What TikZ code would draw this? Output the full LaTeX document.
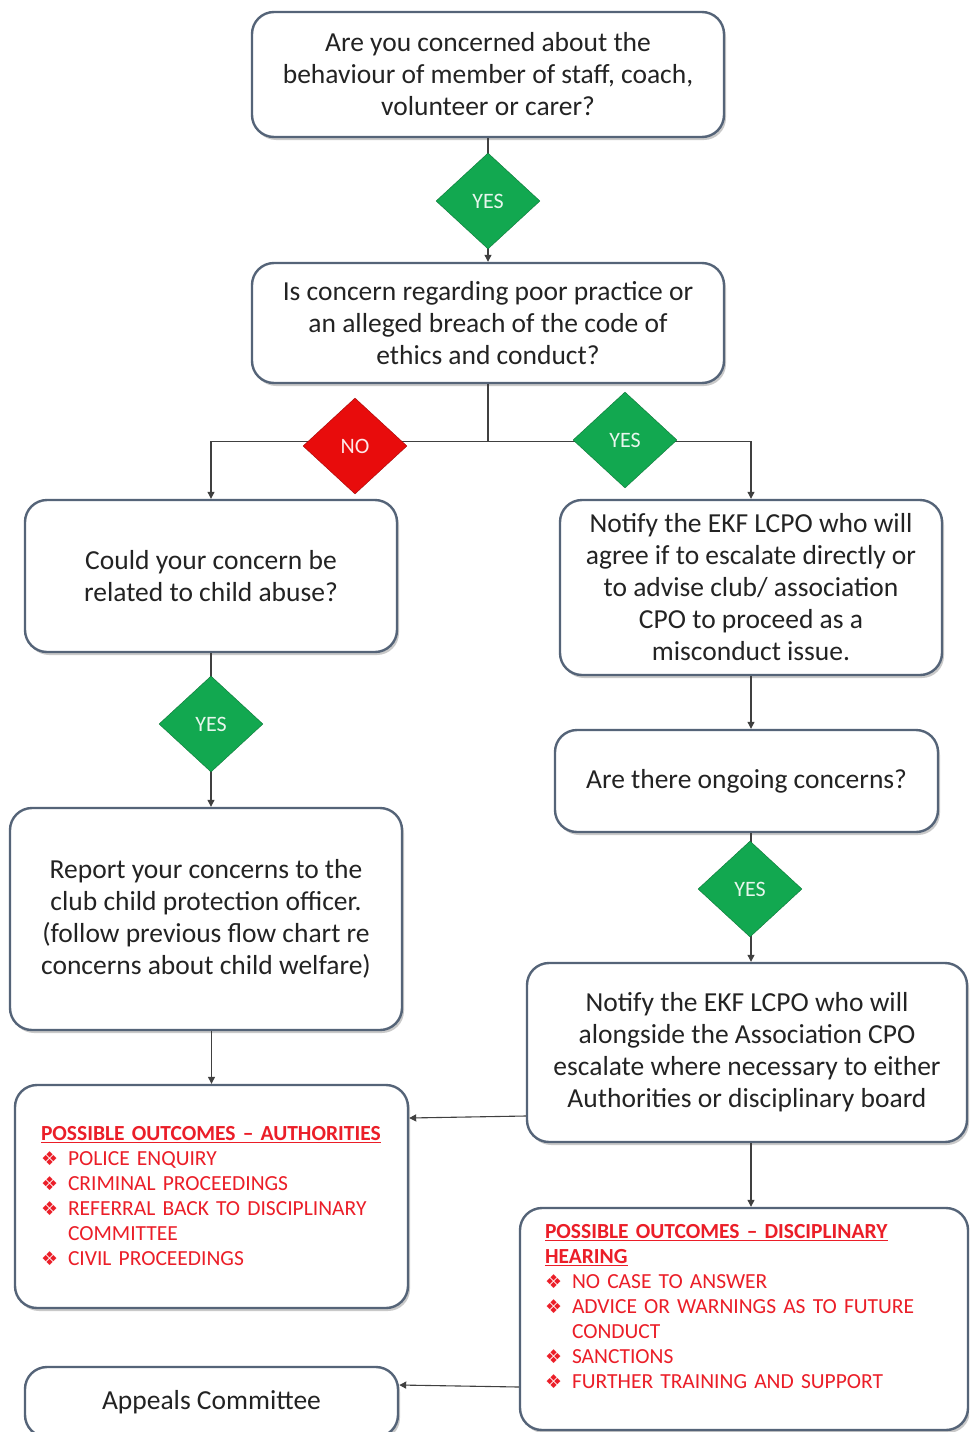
\documentclass[tikz,border=0pt]{standalone}
\RequirePackage{fontspec}
\RequirePackage{tikz}
\usetikzlibrary{shapes.geometric,arrows.meta,shadows}
\setmainfont{Carlito}
\newfontfamily\symfont{DejaVu Sans}
\definecolor{boxline}{RGB}{85,100,120}
\definecolor{yesgreen}{RGB}{18,168,80}
\definecolor{nored}{RGB}{232,12,12}
\definecolor{listred}{RGB}{235,30,40}
\definecolor{inktext}{RGB}{35,35,35}
\newcommand{\bul}{\makebox[27pt][l]{\symfont\fontsize{19}{19}\selectfont ❖}}
\newcommand{\ind}{\hspace*{27pt}}

\tikzset{
        box/.style={draw=boxline, line width=2.4pt, rounded corners=22pt, fill=white,
                inner sep=6pt, align=center, text=inktext, font=\fontsize{27.5}{32}\selectfont,
                drop shadow={shadow xshift=2pt, shadow yshift=-3pt, opacity=0.35, fill=black!60}},
        outcome/.style={box, align=left, text=listred, font=\fontsize{21.5}{25}\selectfont, inner xsep=26pt},
        yes/.style={diamond, fill=yesgreen, draw=yesgreen!70!black, inner sep=0pt,
                minimum width=104pt, minimum height=96pt, text=white!90!yesgreen, font=\fontsize{22}{22}\selectfont},
        no/.style={yes, fill=nored, draw=nored!70!black, text=white!90!nored},
        arr/.style={draw=black!75, line width=1.1pt, -{Triangle[length=7pt,width=7pt]}}
}

\begin{document}
\begin{tikzpicture}[x=1pt,y=-1pt]
                \clip (0,0) rectangle (969,1432);
                \fill[white] (0,0) rectangle (969,1432);

                \node[box, minimum width=472pt, minimum height=125pt] (q1) at (488,74.5)
                        {Are you concerned about the\\behaviour of member of staff, coach,\\volunteer or carer?};
                \node[box, minimum width=472pt, minimum height=120pt] (q2) at (488,323)
                        {Is concern regarding poor practice or\\an alleged breach of the code of\\ethics and conduct?};
                \node[box, minimum width=372pt, minimum height=152pt] (abuse) at (211,576)
                        {Could your concern be\\related to child abuse?};
                \node[box, minimum width=382pt, minimum height=175pt] (notify) at (751,587.5)
                        {Notify the EKF LCPO who will\\agree if to escalate directly or\\to advise club/ association\\CPO to proceed as a\\misconduct issue.};
                \node[box, minimum width=392pt, minimum height=222pt] (report) at (206,919)
                        {Report your concerns to the\\club child protection officer.\\(follow previous flow chart re\\concerns about child welfare)};
                \node[box, minimum width=383pt, minimum height=102pt] (ongoing) at (746.5,781)
                        {Are there ongoing concerns?};
                \node[box, minimum width=440pt, minimum height=179pt] (notify2) at (747,1052.5)
                        {Notify the EKF LCPO who will\\alongside the Association CPO\\escalate where necessary to either\\Authorities or disciplinary board};
                \node[outcome, text width=341pt, minimum width=393pt, minimum height=223pt] (auth) at (211.5,1196.5)
                        {\underline{\textbf{POSSIBLE OUTCOMES -- AUTHORITIES}}\\
                         \bul POLICE ENQUIRY\\
                         \bul CRIMINAL PROCEEDINGS\\
                         \bul REFERRAL BACK TO DISCIPLINARY\\
                         \ind COMMITTEE\\
                         \bul CIVIL PROCEEDINGS};
                \node[outcome, text width=398pt, inner xsep=25pt, minimum width=448pt, minimum height=222pt] (discip) at (744,1319)
                        {\underline{\textbf{POSSIBLE OUTCOMES -- DISCIPLINARY}}\\
                         \underline{\textbf{HEARING}}\\
                         \bul NO CASE TO ANSWER\\
                         \bul ADVICE OR WARNINGS AS TO FUTURE\\
                         \ind CONDUCT\\
                         \bul SANCTIONS\\
                         \bul FURTHER TRAINING AND SUPPORT\\
                         \mbox{}};
                \node[box, minimum width=373pt, minimum height=70pt] (appeals) at (211.5,1402)
                        {Appeals Committee};

                \draw[arr] (q1.south) -- (q2.north);
                \draw[arr] (q2.south) -- ++(0,57) -| (abuse.north);
                \draw[arr] (q2.south) -- ++(0,57) -| (notify.north);
                \draw[arr] (abuse.south) -- (abuse.south |- report.north);
                \draw[arr] (report.south -| auth.north) -- (auth.north);
                \draw[arr] (notify.south) -- (notify.south |- ongoing.north);
                \draw[arr] (ongoing.south -| notify.south) -- (notify.south |- notify2.north);
                \draw[arr] (notify2.west |- 0,1116) -- (auth.east |- 0,1118);
                \draw[arr] (notify2.south -| notify.south) -- (notify.south |- discip.north);
                \draw[arr] (discip.west |- 0,1387) -- (appeals.east |- 0,1385);

                \node[yes] (yes1) at (488,201) {YES};
                \node[no] (no1) at (355,446) {NO};
                \node[yes] (yes2) at (625,440) {YES};
                \node[yes] (yes3) at (211,724) {YES};
                \node[yes] (yes4) at (750,889) {YES};
\end{tikzpicture}
\end{document}
